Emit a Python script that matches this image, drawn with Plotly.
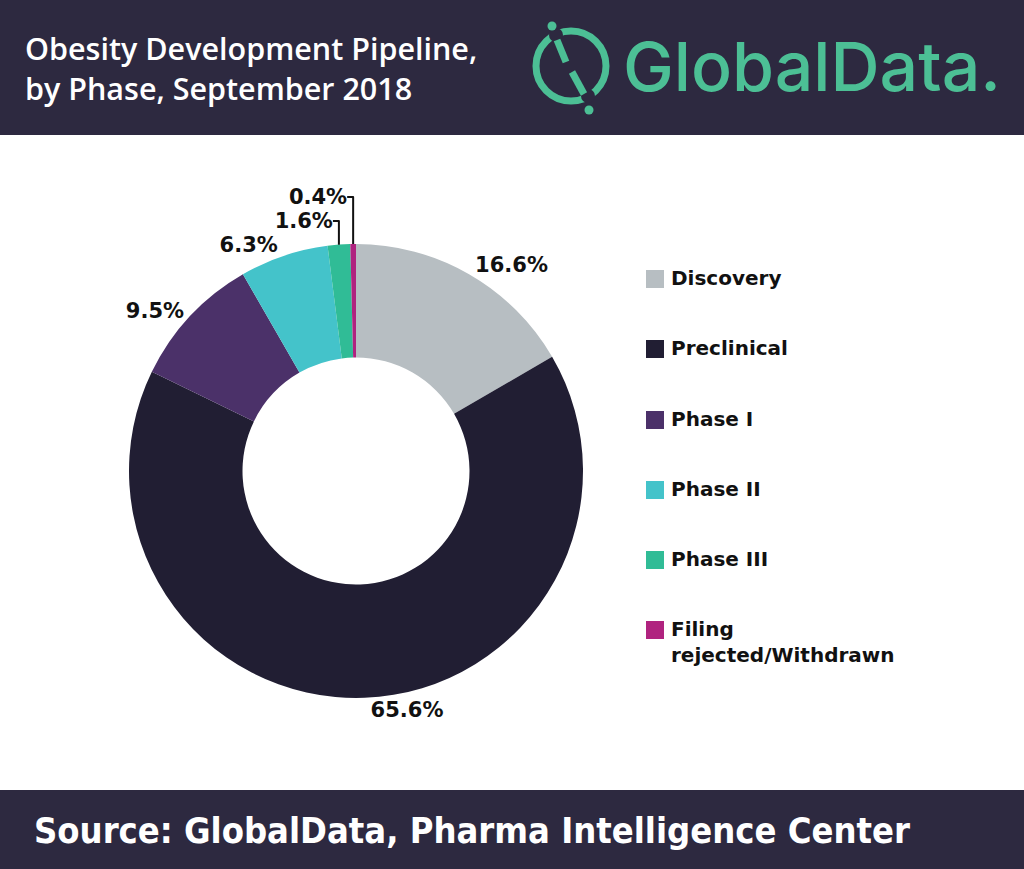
import plotly.graph_objects as go

# ---- data ----
phases = ["Discovery", "Preclinical", "Phase I", "Phase II", "Phase III",
          "Filing rejected/Withdrawn"]
legend_text = ["Discovery", "Preclinical", "Phase I", "Phase II", "Phase III",
               "Filing<br>rejected/Withdrawn"]
shares = [16.6, 65.6, 9.5, 6.3, 1.6, 0.4]
colors = ["#b7bec2", "#211e33", "#4b3169", "#44c3ca", "#30bc96", "#b0237f"]

title_text = "Obesity Development Pipeline,<br>by Phase, September 2018"
source_text = "Source: GlobalData, Pharma Intelligence Center"

W, H = 1024, 869
DARK = "#2d2940"
GREEN = "#4cbf95"
BOLD = "DejaVu Sans"


def px(x):
    return x / W


def py(y):
    return 1 - y / H


fig = go.Figure()

cx, cy, R = 356, 471, 227
fig.add_trace(go.Pie(
    labels=phases,
    values=shares,
    hole=0.5,
    sort=False,
    direction="clockwise",
    rotation=0,
    marker=dict(colors=colors, line=dict(width=0)),
    texttemplate="%{value:.1f}%",
    textposition="outside",
    textfont=dict(family=BOLD, size=21, color="#111111", weight="bold"),
    showlegend=False,
    domain=dict(x=[px(cx - R), px(cx + R)], y=[py(cy + R), py(cy - R)]),
))

shapes = []
annotations = []

# header and footer bands
shapes.append(dict(type="rect", xref="paper", yref="paper", x0=0, x1=1,
                   y0=py(135), y1=1, fillcolor=DARK, line=dict(width=0),
                   layer="below"))
shapes.append(dict(type="rect", xref="paper", yref="paper", x0=0, x1=1,
                   y0=0, y1=py(790), fillcolor=DARK, line=dict(width=0),
                   layer="below"))

annotations.append(dict(text=title_text, xref="paper", yref="paper",
                        x=px(23), y=py(25), xanchor="left", yanchor="top",
                        align="left", showarrow=False,
                        font=dict(family="Open Sans", size=30.5, color="white",
                                  weight=600)))
annotations.append(dict(text=source_text, xref="paper", yref="paper",
                        x=px(32), y=py(830), xanchor="left", yanchor="middle",
                        showarrow=False,
                        font=dict(family="DejaVu Sans Condensed, DejaVu Sans",
                                  size=36, color="white", weight="bold")))

# logo
annotations.append(dict(text="GlobalData.", xref="paper", yref="paper",
                        x=px(621), y=py(66), xanchor="left", yanchor="middle",
                        showarrow=False,
                        font=dict(family="Inter", size=68, color=GREEN,
                                  weight=500)))
lcx, lcy, lr = 571, 66, 35
shapes.append(dict(type="circle", xref="paper", yref="paper",
                   x0=px(lcx - lr), x1=px(lcx + lr), y0=py(lcy + lr),
                   y1=py(lcy - lr), line=dict(color=GREEN, width=7)))
# gaps in ring
for gx, gy in [(556, 35), (588, 96)]:
    shapes.append(dict(type="circle", xref="paper", yref="paper",
                       x0=px(gx - 7), x1=px(gx + 7), y0=py(gy + 7),
                       y1=py(gy - 7), fillcolor=DARK, line=dict(width=0)))
# slash segments
shapes.append(dict(type="line", xref="paper", yref="paper",
                   x0=px(557), y0=py(40), x1=px(566), y1=py(62),
                   line=dict(color=GREEN, width=7)))
shapes.append(dict(type="line", xref="paper", yref="paper",
                   x0=px(572), y0=py(72), x1=px(584), y1=py(94),
                   line=dict(color=GREEN, width=7)))
for dx, dy in [(552, 26), (589, 110)]:
    shapes.append(dict(type="circle", xref="paper", yref="paper",
                       x0=px(dx - 4.5), x1=px(dx + 4.5), y0=py(dy + 4.5),
                       y1=py(dy - 4.5), fillcolor=GREEN, line=dict(width=0)))

# manual legend
leg_y = [279, 349, 420, 490, 560, 630]
for name, col, ly in zip(legend_text, colors, leg_y):
    shapes.append(dict(type="rect", xref="paper", yref="paper",
                       x0=px(646), x1=px(664), y0=py(ly + 9), y1=py(ly - 9),
                       fillcolor=col, line=dict(width=0)))
    annotations.append(dict(text=name, xref="paper", yref="paper",
                            x=px(669), y=py(ly - 15), xanchor="left",
                            yanchor="top", align="left", showarrow=False,
                            font=dict(family=BOLD, size=20, color="#111111",
                                      weight="bold")))

fig.update_layout(
    width=W, height=H,
    margin=dict(l=0, r=0, t=0, b=0),
    paper_bgcolor="white",
    plot_bgcolor="white",
    shapes=shapes,
    annotations=annotations,
)

fig.write_html("out.html",
               config={"displayModeBar": False},
               post_script="document.body.style.margin='0';"
                           "document.body.style.overflow='hidden';")
